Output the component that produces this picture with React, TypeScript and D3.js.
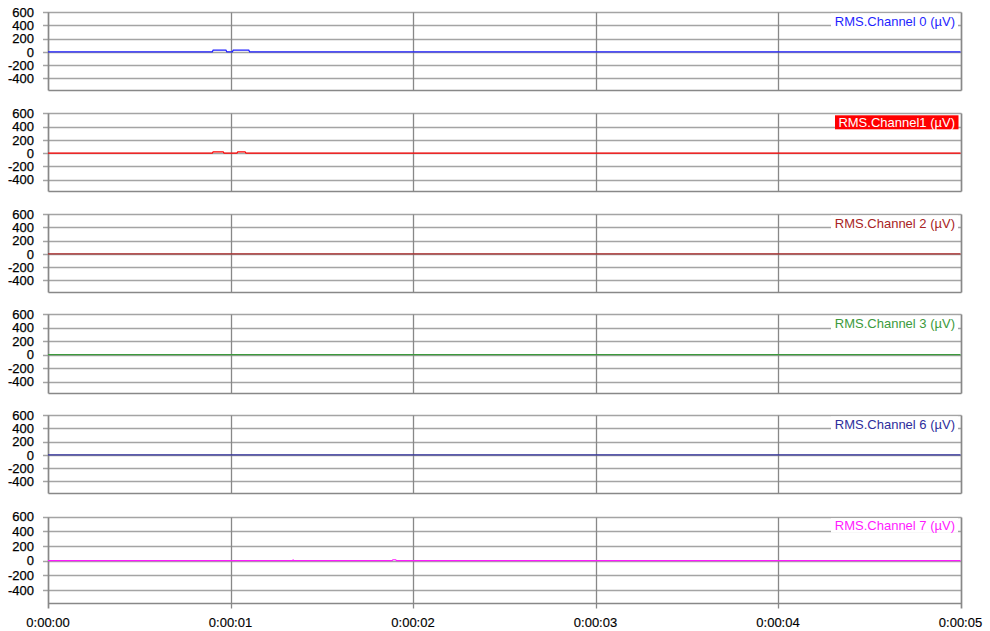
import React from "react";
import * as d3 from "d3";

const channelNames = [
  "RMS.Channel 0 (µV)",
  "RMS.Channel1 (µV)",
  "RMS.Channel 2 (µV)",
  "RMS.Channel 3 (µV)",
  "RMS.Channel 6 (µV)",
  "RMS.Channel 7 (µV)",
];
const channelColors = ["#1f1fff", "#ff0000", "#a82424", "#3c9a3c", "#2e2e9c", "#ff1aff"];

const ch0Times = [0, 0.9, 0.905, 0.975, 0.98, 1.01, 1.015, 1.1, 1.105, 5];
const ch0Values = [0, 0, 25, 25, 0, 0, 25, 25, 0, 0];
const ch1Times = [0, 0.9, 0.905, 0.96, 0.965, 1.035, 1.04, 1.08, 1.085, 5];
const ch1Values = [0, 0, 18, 18, 0, 0, 18, 18, 0, 0];
const ch2Times = [0, 5];
const ch2Values = [0, 0];
const ch3Times = [0, 5];
const ch3Values = [0, 0];
const ch6Times = [0, 5];
const ch6Values = [0, 0];
const ch7Times = [0, 1.34, 1.343, 1.346, 1.885, 1.89, 1.905, 1.91, 5];
const ch7Values = [0, 0, 10, 0, 0, 12, 12, 0, 0];

const seriesTimes = [ch0Times, ch1Times, ch2Times, ch3Times, ch6Times, ch7Times];
const seriesValues = [ch0Values, ch1Values, ch2Values, ch3Values, ch6Values, ch7Values];

const yTicks = [600, 400, 200, 0, -200, -400];
const yDomain = [-575, 600];
const xTicks = [0, 1, 2, 3, 4, 5];
const xTickLabels = ["0:00:00", "0:00:01", "0:00:02", "0:00:03", "0:00:04", "0:00:05"];

const W = 990;
const H = 631;
const plotLeft = 48;
const plotRight = 960.5;
const panelTops = [12, 113.3, 214, 314.3, 415, 516.7];
const panelHeights = [78, 78, 78, 79, 78, 86];

const gridColor = "#a4a4a4";
const axisColor = "#888888";
const font = "Arial, 'Liberation Sans', sans-serif";

export default function App() {
  const x = d3.scaleLinear().domain([0, 5]).range([plotLeft, plotRight]);
  const r = (v: number) => Math.round(v) + 0.5;

  return (
    <svg
      width={W}
      height={H}
      style={{ position: "absolute", left: 0, top: 0, background: "#fff" }}
      fontFamily={font}
    >
      <rect x={0} y={0} width={W} height={H} fill="#fff" />
      {channelNames.map((name, i) => {
        const top = panelTops[i];
        const h = panelHeights[i];
        const y = d3.scaleLinear().domain(yDomain).range([top + h, top]);
        const isLast = i === channelNames.length - 1;
        const line = d3
          .line<number>()
          .x((_, k) => x(seriesTimes[i][k]))
          .y((v) => y(v));
        const bottom = r(y(yDomain[0]));
        const topY = r(y(600));
        return (
          <g key={name}>
            {yTicks.map((t) => (
              <g key={t}>
                <line
                  x1={43}
                  x2={r(x(5))}
                  y1={r(y(t))}
                  y2={r(y(t))}
                  stroke={gridColor}
                  strokeWidth={1.3}
                />
                <text
                  x={34}
                  y={y(t)}
                  dy="0.36em"
                  textAnchor="end"
                  fontSize={13}
                  fill="#000"
                  stroke="#000"
                  strokeWidth={0.25}
                >
                  {t}
                </text>
              </g>
            ))}
            {xTicks.slice(1, 5).map((t) => (
              <line
                key={t}
                x1={r(x(t))}
                x2={r(x(t))}
                y1={topY}
                y2={isLast ? bottom + 5 : bottom}
                stroke={axisColor}
                strokeWidth={1.3}
              />
            ))}
            <line x1={r(x(0))} x2={r(x(0))} y1={topY} y2={isLast ? bottom + 5 : bottom} stroke={axisColor} strokeWidth={1.7} />
            <line x1={r(x(5))} x2={r(x(5))} y1={topY} y2={isLast ? bottom + 5 : bottom} stroke={axisColor} strokeWidth={1.7} />
            <line x1={r(x(0))} x2={r(x(5))} y1={bottom} y2={bottom} stroke={axisColor} strokeWidth={1.7} />
            <path
              d={line(seriesValues[i]) || ""}
              fill="none"
              stroke={channelColors[i]}
              strokeWidth={1.2}
            />
            {i === 1 ? (
              <g>
                <rect x={835} y={top + 2} width={123.5} height={14} fill="#ff0000" />
                <text x={955} y={top + 13.5} textAnchor="end" fontSize={13} fill="#fff">
                  {name}
                </text>
              </g>
            ) : (
              <g>
                <rect x={831} y={top + 1.5} width={127} height={14.5} fill="#fff" />
                <text x={955} y={top + 13.5} textAnchor="end" fontSize={13} fill={channelColors[i]}>
                  {name}
                </text>
              </g>
            )}
            {isLast &&
              xTicks.map((t, k) => (
                <text
                  key={t}
                  x={x(t)}
                  y={bottom + 23.5}
                  textAnchor="middle"
                  fontSize={13}
                  fill="#000"
                  stroke="#000"
                  strokeWidth={0.15}
                >
                  {xTickLabels[k]}
                </text>
              ))}
          </g>
        );
      })}
    </svg>
  );
}
